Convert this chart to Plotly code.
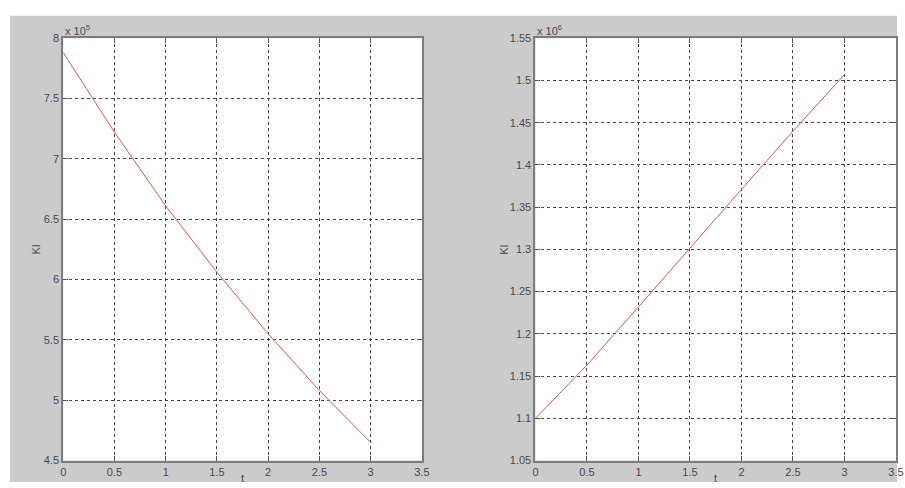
import plotly.graph_objects as go

t = [0, 0.5, 1.0, 1.5, 2.0, 2.5, 3.0]
kl_left = [7.88e5, 7.22e5, 6.61e5, 6.06e5, 5.55e5, 5.08e5, 4.65e5]
kl_right = [1.100e6, 1.163e6, 1.232e6, 1.302e6, 1.371e6, 1.440e6, 1.507e6]

x_ticks = [0, 0.5, 1, 1.5, 2, 2.5, 3, 3.5]
x_tick_text = ["0", "0.5", "1", "1.5", "2", "2.5", "3", "3.5"]
yl_ticks = [4.5, 5, 5.5, 6, 6.5, 7, 7.5, 8]
yl_text = ["4.5", "5", "5.5", "6", "6.5", "7", "7.5", "8"]
yr_ticks = [1.05, 1.1, 1.15, 1.2, 1.25, 1.3, 1.35, 1.4, 1.45, 1.5, 1.55]
yr_text = ["1.05", "1.1", "1.15", "1.2", "1.25", "1.3", "1.35", "1.4", "1.45", "1.5", "1.55"]

W, H = 905, 488
font = dict(family="Liberation Sans, Arial", size=11, color="#4a4a4a")

fig = go.Figure()
fig.add_trace(go.Scatter(x=t, y=[v / 1e5 for v in kl_left], mode="lines",
                         line=dict(color="#e8504f", width=1), xaxis="x", yaxis="y",
                         showlegend=False))
fig.add_trace(go.Scatter(x=t, y=[v / 1e6 for v in kl_right], mode="lines",
                         line=dict(color="#e8504f", width=1), xaxis="x2", yaxis="y2",
                         showlegend=False))

L1, R1 = 61 / W, 424 / W
L2, R2 = 539 / W, 904 / W
B, T = 1 - 466 / H, 1 - 33 / H

axcommon = dict(showgrid=True, gridcolor="#444444", griddash="dot", gridwidth=1,
                showline=True, linecolor="#7d7d7d", linewidth=2, mirror="ticks",
                ticks="inside", ticklen=5, tickcolor="#555555", zeroline=False,
                tickfont=font, fixedrange=True)

fig.update_layout(
    width=W, height=H, margin=dict(l=0, r=0, t=0, b=0),
    paper_bgcolor="white", plot_bgcolor="white",
    xaxis=dict(domain=[L1, R1], range=[0, 3.5], tickvals=x_ticks, ticktext=x_tick_text,
               anchor="y", **axcommon),
    yaxis=dict(domain=[B, T], range=[4.5, 8], tickvals=yl_ticks, ticktext=yl_text,
               anchor="x", **axcommon),
    xaxis2=dict(domain=[L2, R2], range=[0, 3.5], tickvals=x_ticks, ticktext=x_tick_text,
                anchor="y2", **axcommon),
    yaxis2=dict(domain=[B, T], range=[1.05, 1.55], tickvals=yr_ticks, ticktext=yr_text,
                anchor="x2", **axcommon),
    shapes=[
        dict(type="rect", xref="paper", yref="paper", x0=7 / W, x1=1.0, y0=0,
             y1=1 - 10 / H, fillcolor="#cbcbcb", line=dict(width=0), layer="below"),
        dict(type="rect", xref="paper", yref="paper", x0=L1, x1=R1, y0=B,
             y1=T, fillcolor="white", line=dict(width=0), layer="below"),
        dict(type="rect", xref="paper", yref="paper", x0=L2, x1=R2, y0=B,
             y1=T, fillcolor="white", line=dict(width=0), layer="below"),
    ],
)

ann = []
for xc in [(L1 + R1) / 2, (L2 + R2) / 2]:
    ann.append(dict(text="t", x=xc, y=1 - 484 / H, xref="paper", yref="paper",
                    showarrow=False, font=font, xanchor="center", yanchor="middle"))
for xp, lbl in [(33 / W, "Kl"), (507 / W, "Kl")]:
    ann.append(dict(text=lbl, x=xp, y=1 - 250 / H, xref="paper", yref="paper",
                    showarrow=False, font=font, textangle=-90,
                    xanchor="center", yanchor="middle"))
for xp, e in [(L1, "5"), (L2, "6")]:
    ann.append(dict(text="x 10<sup>" + e + "</sup>", x=xp, y=1 - 25 / H,
                    xref="paper", yref="paper", showarrow=False, font=font,
                    xanchor="left", yanchor="middle"))
fig.update_layout(annotations=ann)

fig.write_html("out.html")
